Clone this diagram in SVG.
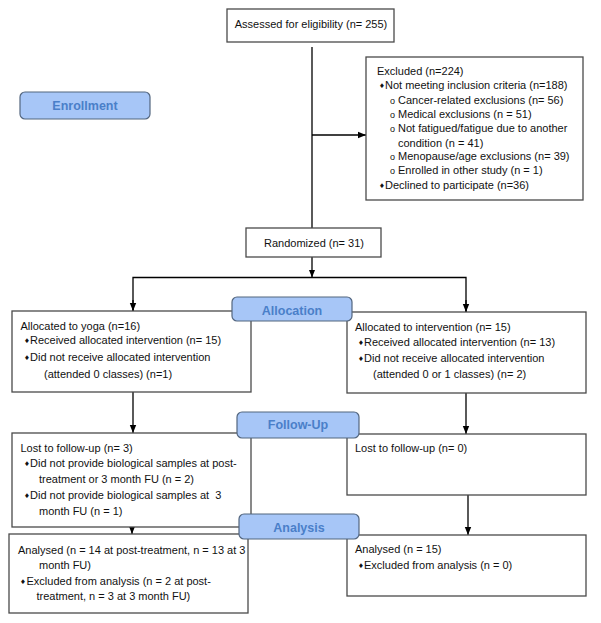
<svg xmlns="http://www.w3.org/2000/svg" width="601" height="623" viewBox="0 0 601 623">
<defs>
<style>
.box{fill:#ffffff;stroke:#4a4a4a;stroke-width:1.3}
.lbl{fill:#a7c6f7;stroke:#53667f;stroke-width:1.2}
.lt{font-family:"Liberation Sans",Arial,sans-serif;font-weight:bold;font-size:12.5px;fill:#4a7fc9;text-anchor:middle}
.t{font-family:"Liberation Sans",Arial,sans-serif;font-size:11px;fill:#111111}
.b{font-family:"DejaVu Sans",sans-serif;font-size:6.5px;fill:#111111}
.o{font-family:"Liberation Sans",Arial,sans-serif;font-size:9px;fill:#111111}
.c{text-anchor:middle}
.ln{fill:none;stroke:#000000;stroke-width:1.3}
</style>
<marker id="ah" markerWidth="8" markerHeight="8" viewBox="0 0 8 8" refX="8" refY="4" orient="auto" markerUnits="userSpaceOnUse">
<path d="M0,0.8 L8,4 L0,7.2 z" fill="#000000"/>
</marker>
</defs>
<rect width="601" height="623" fill="#ffffff"/>

<g id="connectors">
<line class="ln" x1="312" y1="47" x2="312" y2="228"/>
<line class="ln" x1="312" y1="135" x2="366" y2="135" marker-end="url(#ah)"/>
<line class="ln" x1="312" y1="257" x2="312" y2="277.5" marker-end="url(#ah)"/>
<polyline class="ln" points="133,311 133,277.5 466,277.5 466,312"/>
<line class="ln" x1="133" y1="300" x2="133" y2="311" marker-end="url(#ah)"/>
<line class="ln" x1="466" y1="300" x2="466" y2="312" marker-end="url(#ah)"/>
<line class="ln" x1="133" y1="392" x2="133" y2="433" marker-end="url(#ah)"/>
<line class="ln" x1="466" y1="393" x2="466" y2="434" marker-end="url(#ah)"/>
<line class="ln" x1="132" y1="527" x2="132" y2="534" marker-end="url(#ah)"/>
<line class="ln" x1="468" y1="495" x2="468" y2="535" marker-end="url(#ah)"/>
</g>

<g id="assessed">
<rect class="box" x="227" y="9" width="167" height="33"/>
<text class="t c" x="311" y="28">Assessed for eligibility (n= 255)</text>
</g>

<g id="excluded">
<rect class="box" x="366" y="57" width="217" height="143"/>
<text class="t" x="377" y="74.5">Excluded (n=224)</text>
<text class="b" x="379" y="88">♦</text>
<text class="t" x="385" y="89">Not meeting inclusion criteria (n=188)</text>
<text class="o" x="390" y="103.5">o</text>
<text class="t" x="398" y="103.5">Cancer-related exclusions (n= 56)</text>
<text class="o" x="390" y="117.5">o</text>
<text class="t" x="398" y="117.5">Medical exclusions (n = 51)</text>
<text class="o" x="390" y="132">o</text>
<text class="t" x="398" y="132">Not fatigued/fatigue due to another</text>
<text class="t" x="398" y="146.5">condition (n = 41)</text>
<text class="o" x="390" y="160">o</text>
<text class="t" x="398" y="160">Menopause/age exclusions (n= 39)</text>
<text class="o" x="390" y="174">o</text>
<text class="t" x="398" y="174">Enrolled in other study (n = 1)</text>
<text class="b" x="379" y="187.5">♦</text>
<text class="t" x="385" y="188.5">Declined to participate (n=36)</text>
</g>

<g id="randomized">
<rect class="box" x="246" y="228" width="135" height="29"/>
<text class="t c" x="314" y="247">Randomized (n= 31)</text>
</g>

<g id="alloc-yoga">
<rect class="box" x="12" y="311" width="239" height="81"/>
<text class="t" x="20.5" y="330">Allocated to yoga (n=16)</text>
<text class="b" x="24" y="343">♦</text>
<text class="t" x="30" y="344">Received allocated intervention (n= 15)</text>
<text class="b" x="24" y="360">♦</text>
<text class="t" x="30" y="361">Did not receive allocated intervention</text>
<text class="t" x="44" y="377.5">(attended 0 classes) (n=1)</text>
</g>

<g id="alloc-control">
<rect class="box" x="347" y="312" width="239" height="81"/>
<text class="t" x="355" y="330.5">Allocated to intervention (n= 15)</text>
<text class="b" x="358" y="344.5">♦</text>
<text class="t" x="364" y="345.5">Received allocated intervention (n= 13)</text>
<text class="b" x="358" y="360.5">♦</text>
<text class="t" x="364" y="361.5">Did not receive allocated intervention</text>
<text class="t" x="373" y="378">(attended 0 or 1 classes) (n= 2)</text>
</g>

<g id="follow-yoga">
<rect class="box" x="12" y="433" width="239" height="94"/>
<text class="t" x="20.5" y="452">Lost to follow-up (n= 3)</text>
<text class="b" x="24" y="466">♦</text>
<text class="t" x="30" y="467">Did not provide biological samples at post-</text>
<text class="t" x="39" y="482.5">treatment or 3 month FU (n = 2)</text>
<text class="b" x="24" y="497.5">♦</text>
<text class="t" x="30" y="498.5" xml:space="preserve">Did not provide biological samples at  3</text>
<text class="t" x="39" y="515">month FU (n = 1)</text>
</g>

<g id="follow-control">
<rect class="box" x="347" y="434" width="239" height="61"/>
<text class="t" x="355" y="452">Lost to follow-up (n= 0)</text>
</g>

<g id="analysis-yoga">
<rect class="box" x="9" y="534" width="239" height="79"/>
<text class="t" x="18" y="554">Analysed (n = 14 at post-treatment, n = 13 at 3</text>
<text class="t" x="39" y="568.5">month FU)</text>
<text class="b" x="20" y="583.5">♦</text>
<text class="t" x="26.5" y="584.5">Excluded from analysis (n = 2 at post-</text>
<text class="t" x="36.5" y="599.5">treatment, n = 3 at 3 month FU)</text>
</g>

<g id="analysis-control">
<rect class="box" x="347" y="535" width="239" height="61"/>
<text class="t" x="355" y="553">Analysed (n = 15)</text>
<text class="b" x="358" y="567.5">♦</text>
<text class="t" x="364" y="568.5">Excluded from analysis (n = 0)</text>
</g>

<g id="label-enrollment">
<rect class="lbl" x="20" y="92" width="130" height="27" rx="5"/>
<text class="lt" x="85" y="110">Enrollment</text>
</g>
<g id="label-allocation">
<rect class="lbl" x="232" y="297" width="120" height="24" rx="5"/>
<text class="lt" x="292" y="314.5">Allocation</text>
</g>
<g id="label-followup">
<rect class="lbl" x="237" y="412" width="122" height="26" rx="5"/>
<text class="lt" x="298" y="429">Follow-Up</text>
</g>
<g id="label-analysis">
<rect class="lbl" x="239" y="514" width="120" height="25" rx="5"/>
<text class="lt" x="299" y="531.5">Analysis</text>
</g>
</svg>
